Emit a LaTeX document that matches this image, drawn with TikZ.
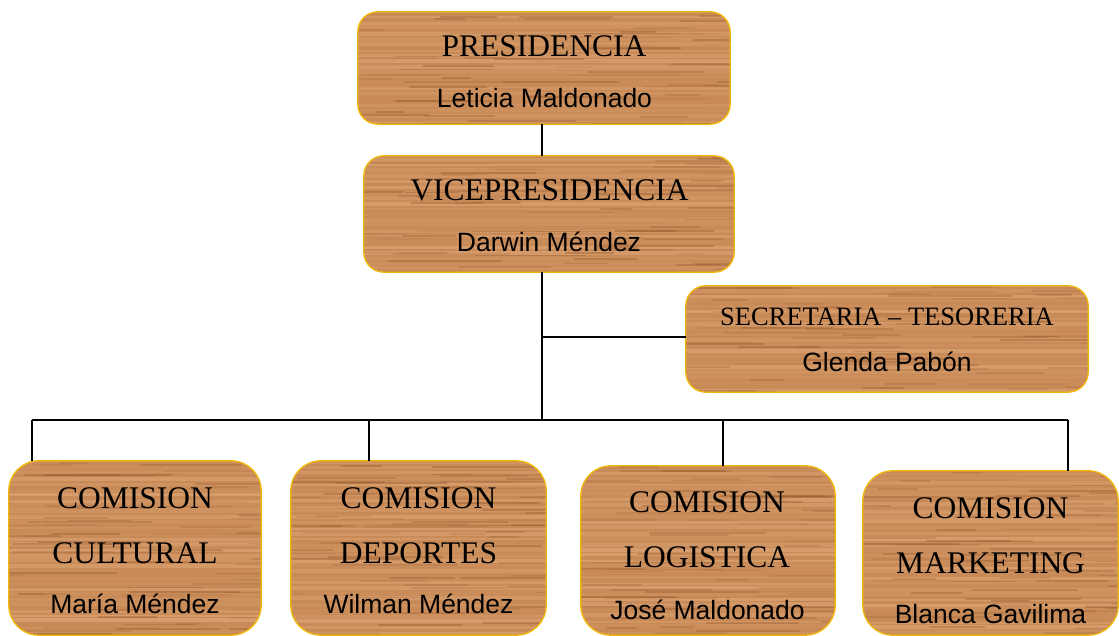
\documentclass[tikz,border=0pt]{standalone}
\usepackage{fontspec}
\setmainfont{Liberation Serif}
\newfontfamily\arialf{Liberation Sans}
\definecolor{woodbase}{HTML}{C88A57}
\definecolor{wooddark}{HTML}{94572C}
\definecolor{woodlight}{HTML}{E6B182}
\definecolor{woodborder}{HTML}{F2B705}
% wood grain inside a rounded box: #1 left, #2 bottom, #3 width, #4 height, #5 radius
\newcommand\woodin[5]{%
  \begin{scope}
    \clip[rounded corners=#5] (#1,#2) rectangle ++(#3,#4);
    \pgfmathsetmacro\nb{int(#4/5.5)}
    \foreach \k in {0,...,\nb}{
      \pgfmathsetmacro\yy{#2+\k*5.5+rnd*2}
      \pgfmathsetmacro\op{0.08+rnd*0.42}
      \pgfmathsetmacro\hh{2+rnd*2.5}
      \fill[woodlight, opacity=\op] (#1,\yy) rectangle ++(#3,\hh);
    }
    \pgfmathsetmacro\nd{int((#3/30)*(#4/22))}
    \foreach \k in {0,...,\nd}{
      \pgfmathsetmacro\yy{#2+rnd*#4}
      \pgfmathsetmacro\xx{#1-30+rnd*(#3+30)}
      \pgfmathsetmacro\ll{25+rnd*100}
      \pgfmathsetmacro\op{0.1+rnd*0.3}
      \draw[wooddark, line width=1.8pt, opacity=\op, line cap=round] (\xx,\yy) -- ++(\ll,0);
    }
  \end{scope}}
\tikzset{
  woodbox/.style={rectangle, fill=woodbase, inner sep=0pt},
  topbox/.style={woodbox, rounded corners=20pt},
  combox/.style={woodbox, rounded corners=30pt},
  bord/.style={draw=woodborder, line width=1.3pt},
  ttl/.style={font=\fontsize{31.5}{36}\selectfont, inner sep=0pt, anchor=base},
  sttl/.style={font=\fontsize{26.5}{30}\selectfont, inner sep=0pt, anchor=base},
  nm/.style={font=\arialf\fontsize{26.5}{30}\selectfont, inner sep=0pt, anchor=base},
  conn/.style={draw=black, line width=1.8pt}
}
\begin{document}
\begin{tikzpicture}[x=1pt,y=1pt]
\useasboundingbox (0,0) rectangle (1119,636);
\pgfmathsetseed{4242}
% boxes
\node[topbox, minimum width=372pt, minimum height=112pt] (P) at (544,568) {};
\node[topbox, minimum width=370pt, minimum height=116pt] (V) at (549,422) {};
\node[topbox, minimum width=402pt, minimum height=106pt] (S) at (887,297) {};
\node[combox, minimum width=252pt, minimum height=174pt] (C1) at (135,88) {};
\node[combox, minimum width=255pt, minimum height=174pt] (C2) at (418.5,88) {};
\node[combox, minimum width=254pt, minimum height=169pt] (C3) at (708,85.5) {};
\node[combox, minimum width=255pt, minimum height=164pt] (C4) at (990.5,83) {};
% wood grain
\woodin{358}{512}{372}{112}{20pt}
\woodin{364}{364}{370}{116}{20pt}
\woodin{686}{244}{402}{106}{20pt}
\woodin{9}{1}{252}{174}{30pt}
\woodin{291}{1}{255}{174}{30pt}
\woodin{581}{1}{254}{169}{30pt}
\woodin{863}{1}{255}{164}{30pt}
% borders
\foreach \b in {P,V,S}{\draw[bord, rounded corners=20pt] (\b.south west) rectangle (\b.north east);}
\foreach \b in {C1,C2,C3,C4}{\draw[bord, rounded corners=30pt] (\b.south west) rectangle (\b.north east);}
% connectors
\coordinate (hub) at (542,216);
\coordinate (sb) at (542,299);
\coordinate (j1) at (32,216);
\coordinate (j2) at (369,216);
\coordinate (j3) at (723,216);
\coordinate (j4) at (1068,216);
\draw[conn] (P.south -| hub) -- (V.north -| hub);
\draw[conn] (V.south -| hub) -- (hub);
\draw[conn] (sb) -- (sb -| S.west);
\draw[conn] (j1) -- (j4);
\draw[conn] (j1) -- (j1 |- C1.north);
\draw[conn] (j2) -- (j2 |- C2.north);
\draw[conn] (j3) -- (j3 |- C3.north);
\draw[conn] (j4) -- (j4 |- C4.north);
% texts
\node[ttl] (Pt) at (544,579) {PRESIDENCIA};
\node[nm] (Pn) at (544.5,528) {Leticia Maldonado};
\node[ttl] (Vt) at (549.5,435) {VICEPRESIDENCIA};
\node[nm] (Vn) at (549,384) {Darwin Méndez};
\node[sttl] (St) at (887,310) {SECRETARIA – TESORERIA};
\node[nm] (Sn) at (887,264) {Glenda Pabón};
\node[ttl] (C1a) at (135,127) {COMISION};
\node[ttl] (C1b) at (135,72) {CULTURAL};
\node[nm] (C1n) at (135,22) {María Méndez};
\node[ttl] (C2a) at (418.5,127) {COMISION};
\node[ttl] (C2b) at (418.5,72) {DEPORTES};
\node[nm] (C2n) at (418.5,22) {Wilman Méndez};
\node[ttl] (C3a) at (707,123) {COMISION};
\node[ttl] (C3b) at (707,68) {LOGISTICA};
\node[nm] (C3n) at (707.5,16) {José Maldonado};
\node[ttl] (C4a) at (990.5,117) {COMISION};
\node[ttl] (C4b) at (990.5,62) {MARKETING};
\node[nm] (C4n) at (990.5,12) {Blanca Gavilima};
\end{tikzpicture}
\end{document}
